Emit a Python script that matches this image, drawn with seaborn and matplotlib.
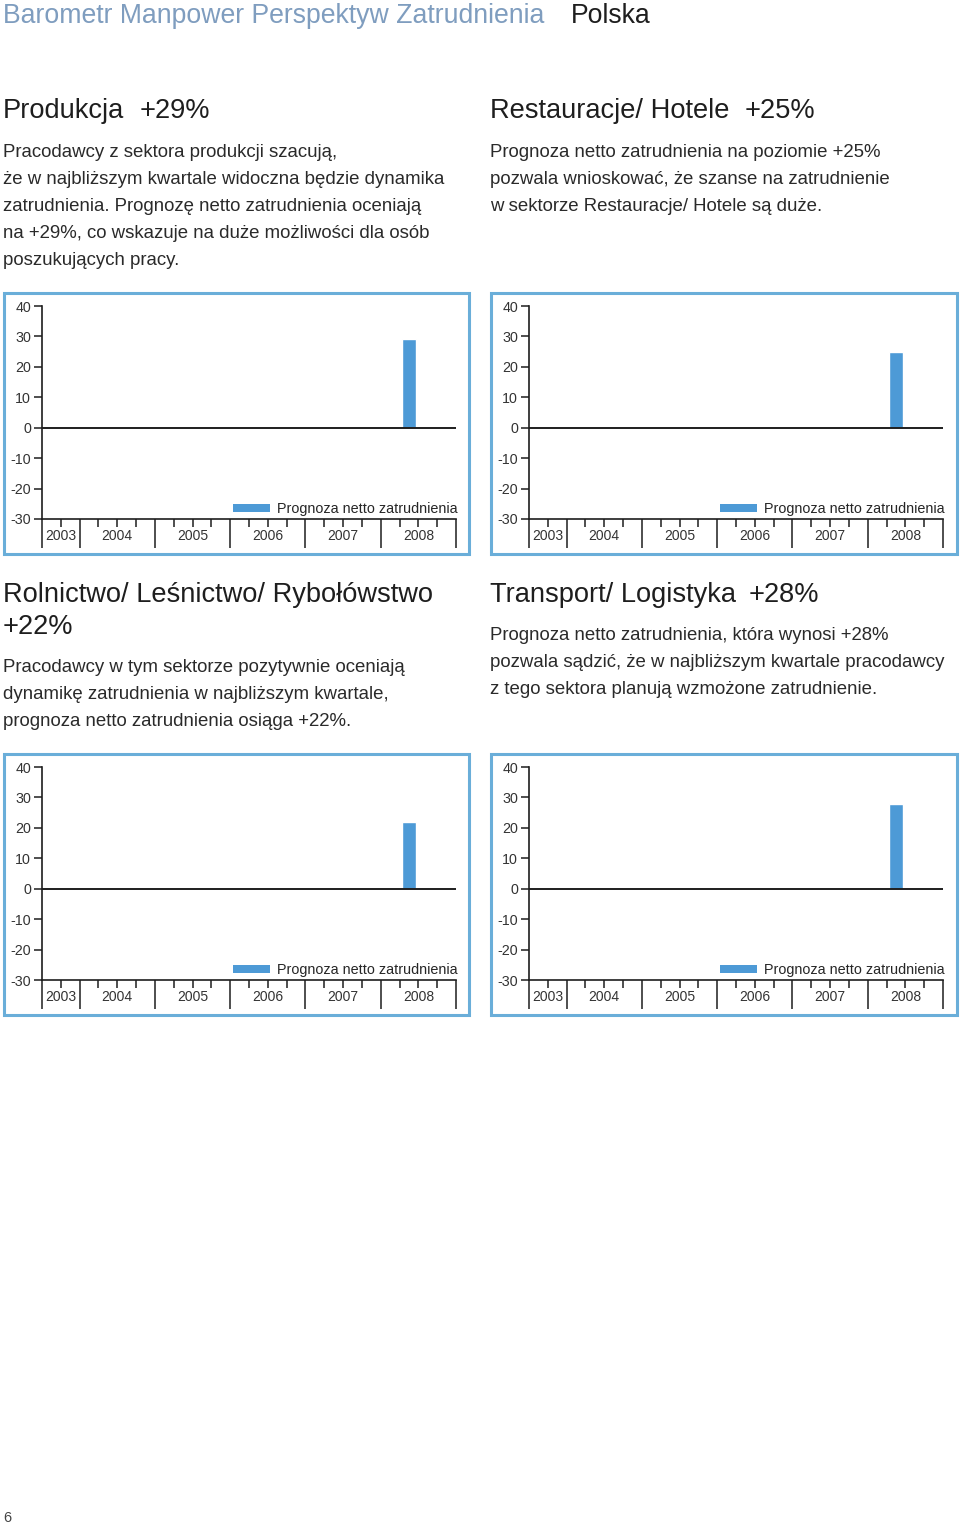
import matplotlib
matplotlib.use("Agg")
import matplotlib.pyplot as plt
from matplotlib.patches import Rectangle, Patch
import seaborn as sns
import pandas as pd

# ---------------- data ----------------
kwartaly = ['2003 Q3', '2003 Q4',
            '2004 Q1', '2004 Q2', '2004 Q3', '2004 Q4',
            '2005 Q1', '2005 Q2', '2005 Q3', '2005 Q4',
            '2006 Q1', '2006 Q2', '2006 Q3', '2006 Q4',
            '2007 Q1', '2007 Q2', '2007 Q3', '2007 Q4',
            '2008 Q1', '2008 Q2', '2008 Q3', '2008 Q4']
lata = ['2003', '2004', '2005', '2006', '2007', '2008']
y_ticks = [40, 30, 20, 10, 0, -10, -20, -30]

sektory = ['Produkcja', 'Restauracje/ Hotele',
           'Rolnictwo/ Leśnictwo/ Rybołówstwo', 'Transport/ Logistyka']
wyniki = ['+29%', '+25%', '+22%', '+28%']

kwartal_produkcja = ['2008 Q2']
prognoza_produkcja = [29]
kwartal_restauracje = ['2008 Q2']
prognoza_restauracje = [25]
kwartal_rolnictwo = ['2008 Q2']
prognoza_rolnictwo = [22]
kwartal_transport = ['2008 Q2']
prognoza_transport = [28]

opisy = [
    ['Pracodawcy z sektora produkcji szacują,',
     'że w najbliższym kwartale widoczna będzie dynamika',
     'zatrudnienia. Prognozę netto zatrudnienia oceniają',
     'na +29%, co wskazuje na duże możliwości dla osób',
     'poszukujących pracy.'],
    ['Prognoza netto zatrudnienia na poziomie +25%',
     'pozwala wnioskować, że szanse na zatrudnienie',
     'w sektorze Restauracje/ Hotele są duże.'],
    ['Pracodawcy w tym sektorze pozytywnie oceniają',
     'dynamikę zatrudnienia w najbliższym kwartale,',
     'prognoza netto zatrudnienia osiąga +22%.'],
    ['Prognoza netto zatrudnienia, która wynosi +28%',
     'pozwala sądzić, że w najbliższym kwartale pracodawcy',
     'z tego sektora planują wzmożone zatrudnienie.'],
]
legenda = 'Prognoza netto zatrudnienia'
tytul = 'Barometr Manpower Perspektyw Zatrudnienia'
kraj = 'Polska'
strona = '6'

# ---------------- style ----------------
sns.set_style('white')
plt.rcParams['font.family'] = ['Liberation Sans', 'DejaVu Sans']
plt.rcParams['axes.unicode_minus'] = False

W, H = 960, 1524
fig = plt.figure(figsize=(W / 100, H / 100), dpi=100)

BAR = '#4d9ad6'
FRAME = '#6aaed9'
INK = '#1e1e1e'
BODY = '#2a2a2a'
TITLE_BLUE = '#7f9dbf'


def fx(x):
    return x / W


def fy(y):
    return 1 - y / H


# header
fig.text(fx(3), fy(23), tytul, fontsize=19.2, color=TITLE_BLUE, va='baseline', ha='left')
fig.text(fx(571), fy(23), kraj, fontsize=19.2, color=INK, va='baseline', ha='left')
fig.text(fx(3), fy(1522), strona, fontsize=10.5, color='#444444', va='baseline', ha='left')

# text blocks
heading_layout = [
    # (x, baseline, value x, value baseline)
    (3, 118, 140, 118),
    (490, 118, 745, 118),
    (3, 602, 3, 634),
    (490, 602, 749, 602),
]
body_layout = [(3, 157), (490, 157), (3, 672), (490, 640)]
for i in range(4):
    hx, hy, vx, vy = heading_layout[i]
    fig.text(fx(hx), fy(hy), sektory[i], fontsize=19.6, color=INK, va='baseline', ha='left')
    fig.text(fx(vx), fy(vy), wyniki[i], fontsize=19.6, color=INK, va='baseline', ha='left')
    bx, by = body_layout[i]
    for j, line in enumerate(opisy[i]):
        fig.text(fx(bx), fy(by + 27 * j), line, fontsize=13.45, color=BODY,
                 va='baseline', ha='left')

# charts
chart_data = [
    (kwartal_produkcja, prognoza_produkcja),
    (kwartal_restauracje, prognoza_restauracje),
    (kwartal_rolnictwo, prognoza_rolnictwo),
    (kwartal_transport, prognoza_transport),
]
axes_px = [(42, 456, 306, 519), (529, 943, 306, 519),
           (42, 456, 767, 980), (529, 943, 767, 980)]
frames_px = [(4, 469, 293, 554), (491, 957, 293, 554),
             (4, 469, 754, 1015), (491, 957, 754, 1015)]

# year boundaries and centres derived from the quarter list
boundaries = [-0.5]
for i, q in enumerate(kwartaly):
    if q.endswith('Q1') and i > 0:
        boundaries.append(i - 0.5)
boundaries.append(len(kwartaly) - 0.5)
quarter_bounds = [i - 0.5 for i in range(len(kwartaly) + 1)]
year_centres = []
for y in lata:
    idx = [i for i, q in enumerate(kwartaly) if q.startswith(y)]
    year_centres.append(sum(idx) / len(idx))

for k in range(4):
    fx0, fx1, fyt, fyb = frames_px[k]
    fig.patches.append(Rectangle((fx(fx0), fy(fyb)), (fx1 - fx0) / W, (fyb - fyt) / H,
                                 transform=fig.transFigure, fill=False,
                                 edgecolor=FRAME, linewidth=2.2, zorder=0))

    x0, x1, yt, yb = axes_px[k]
    ax = fig.add_axes([fx(x0), fy(yb), (x1 - x0) / W, (yb - yt) / H])
    ax.patch.set_alpha(0)
    kw, vals = chart_data[k]
    df = pd.DataFrame({'kwartal': kw, 'prognoza': vals})
    sns.barplot(data=df, x='kwartal', y='prognoza', order=kwartaly, color=BAR,
                width=0.7, saturation=1, ax=ax)
    ax.set_xlim(-0.5, len(kwartaly) - 0.5)
    ax.set_ylim(-30, 40)
    ax.set_xlabel('')
    ax.set_ylabel('')
    ax.axhline(0, color=INK, linewidth=1.4, zorder=1)

    for s in ['top', 'right']:
        ax.spines[s].set_visible(False)
    for s in ['left', 'bottom']:
        ax.spines[s].set_color(INK)
        ax.spines[s].set_linewidth(1.2)

    ax.set_yticks(y_ticks)
    ax.set_yticklabels([str(v) for v in y_ticks])
    ax.tick_params(axis='y', direction='out', length=6, width=1.1, color=INK,
                   labelsize=10.3, labelcolor='#333333', pad=2, left=True)

    ax.set_xticks(boundaries)
    ax.set_xticklabels([])
    ax.set_xticks(quarter_bounds, minor=True)
    ax.tick_params(axis='x', which='major', direction='out', length=21, width=1.1,
                   color=INK, bottom=True)
    ax.tick_params(axis='x', which='minor', direction='out', length=6, width=1.1,
                   color=INK, bottom=True)

    for yr, c in zip(lata, year_centres):
        ax.text(c, -0.08, yr, transform=ax.get_xaxis_transform(), fontsize=10,
                color='#333333', ha='center', va='center')

    handle = Patch(facecolor=BAR, edgecolor='none')
    ax.legend(handles=[handle], labels=[legenda], loc='lower right',
              bbox_to_anchor=(1.012, 0.0), frameon=False, fontsize=10.4,
              handlelength=2.5, handleheight=0.48, handletextpad=0.55,
              borderpad=0.1, borderaxespad=0.1)

fig.savefig('out.png', dpi=100)
